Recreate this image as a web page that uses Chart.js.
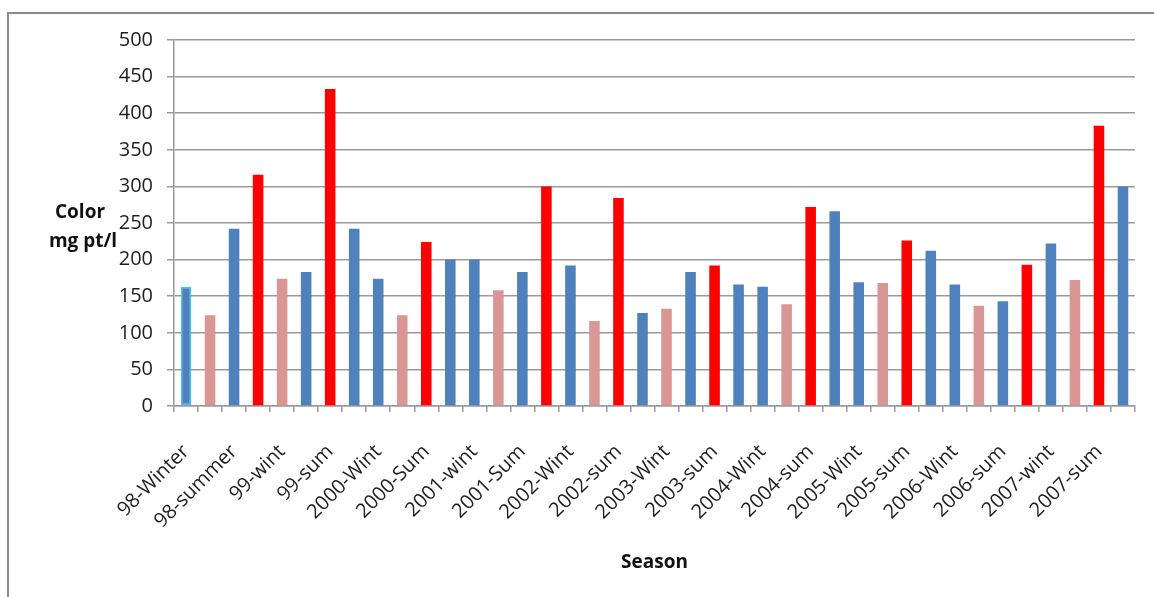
<!DOCTYPE html>
<html>
<head>
<meta charset="utf-8">
<title>Color by season</title>
<script src="https://cdn.jsdelivr.net/npm/chart.js@4/dist/chart.umd.min.js"></script>
<style>
  html, body { margin: 0; padding: 0; background: #ffffff; }
  #wrap { position: relative; width: 1154px; height: 597px; }
</style>
</head>
<body>
<div id="wrap"><canvas id="chart" width="1154" height="597"></canvas></div>
<script>
// Season categories (only every other category carries a printed name)
const categories = [
  '98-Winter', '', '98-summer', '', '99-wint', '', '99-sum', '',
  '2000-Wint', '', '2000-Sum', '', '2001-wint', '', '2001-Sum', '',
  '2002-Wint', '', '2002-sum', '', '2003-Wint', '', '2003-sum', '',
  '2004-Wint', '', '2004-sum', '', '2005-Wint', '', '2005-sum', '',
  '2006-Wint', '', '2006-sum', '', '2007-wint', '', '2007-sum', ''
];

// Colour, mg Pt/l
const colorValues = [
  163, 124, 242, 316, 174, 183, 433, 242, 174, 124,
  224, 200, 200, 158, 183, 300, 192, 116, 284, 127,
  133, 183, 192, 166, 163, 139, 272, 266, 169, 168,
  226, 212, 166, 137, 143, 193, 222, 172, 383, 300
];

// Bar group per category: B = blue, P = pink, R = red
const barGroups = [
  'B', 'P', 'B', 'R', 'P', 'B', 'R', 'B', 'B', 'P',
  'R', 'B', 'B', 'P', 'B', 'R', 'B', 'P', 'R', 'B',
  'P', 'B', 'R', 'B', 'B', 'P', 'R', 'B', 'B', 'P',
  'R', 'B', 'B', 'P', 'B', 'R', 'B', 'P', 'R', 'B'
];

const yTicks = [0, 50, 100, 150, 200, 250, 300, 350, 400, 450, 500];

const groupColors = { B: '#4f81bd', P: '#d99694', R: '#ff0000' };
const gridColor = '#9a9a9a';
const textColor = '#1e1e1e';
const fontFamily = "'Open Sans', 'DejaVu Sans', sans-serif";

// Frame lines and the horizontal axis titles drawn on the canvas
const decorations = {
  id: 'decorations',
  beforeDraw(chart) {
    const ctx = chart.ctx;
    ctx.save();
    ctx.fillStyle = '#ffffff';
    ctx.fillRect(0, 0, chart.width, chart.height);
    ctx.strokeStyle = '#8c8c8c';
    ctx.lineWidth = 2;
    ctx.beginPath();
    ctx.moveTo(8, chart.height);
    ctx.lineTo(8, 13);
    ctx.lineTo(chart.width, 13);
    ctx.stroke();
    ctx.restore();
  },
  afterDraw(chart) {
    const ctx = chart.ctx;
    const area = chart.chartArea;
    ctx.save();
    ctx.fillStyle = '#111111';
    ctx.font = 'bold 19px ' + fontFamily;
    ctx.textAlign = 'center';
    ctx.textBaseline = 'middle';
    ctx.fillText('Color', 80, 213);
    ctx.fillText('mg pt/l', 83, 242);
    ctx.fillText('Season', (area.left + area.right) / 2, 563);
    ctx.restore();
  }
};

new Chart(document.getElementById('chart'), {
  type: 'bar',
  data: {
    labels: categories,
    datasets: [{
      data: colorValues,
      backgroundColor: barGroups.map(g => groupColors[g]),
      borderColor: barGroups.map((g, i) => i === 0 ? '#3cc8f0' : groupColors[g]),
      borderWidth: ctx => ctx.dataIndex === 0 ? 1.5 : 0,
      borderSkipped: false,
      barPercentage: 0.44,
      categoryPercentage: 1.0
    }]
  },
  plugins: [decorations],
  options: {
    responsive: false,
    animation: false,
    layout: { padding: { left: 0, right: 19, top: 40, bottom: 0 } },
    plugins: {
      legend: { display: false },
      tooltip: { enabled: false }
    },
    scales: {
      x: {
        type: 'category',
        offset: true,
        grid: {
          offset: true,
          drawOnChartArea: false,
          drawTicks: true,
          tickLength: 6,
          color: gridColor,
          lineWidth: 1.5
        },
        border: { display: true, color: gridColor, width: 1.5 },
        ticks: {
          autoSkip: false,
          maxRotation: 45,
          minRotation: 45,
          padding: 28,
          color: textColor,
          font: { family: fontFamily, size: 20 }
        },
        afterFit(scale) {
          scale.height = 191;
          scale.paddingLeft = 0;
          scale.paddingRight = 0;
        }
      },
      y: {
        min: 0,
        max: 500,
        afterBuildTicks(scale) { scale.ticks = yTicks.map(v => ({ value: v })); },
        grid: {
          color: gridColor,
          lineWidth: 1.5,
          tickLength: 7
        },
        border: { display: true, color: gridColor, width: 1.5 },
        ticks: {
          padding: 14,
          color: textColor,
          font: { family: fontFamily, size: 20 }
        },
        afterFit(scale) { scale.width = 174; }
      }
    }
  }
});
</script>
</body>
</html>
